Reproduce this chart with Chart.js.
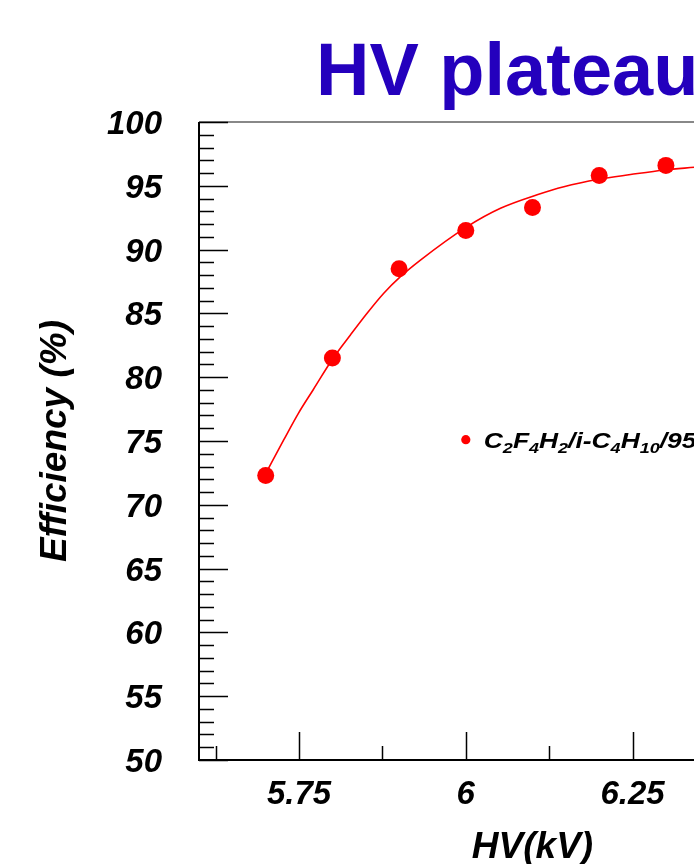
<!DOCTYPE html>
<html>
<head>
<meta charset="utf-8">
<script src="https://cdn.jsdelivr.net/npm/chart.js@4/dist/chart.umd.min.js"></script>
<style>
html,body{margin:0;padding:0;background:#fff;overflow:hidden;width:694px;height:864px;}
#wrap{position:absolute;left:0;top:0;width:1000px;height:864px;}
</style>
</head>
<body>
<div id="wrap"><canvas id="c" width="1000" height="864"></canvas></div>
<script>
// ---- data ----
const hvValues  = [5.70, 5.80, 5.90, 6.00, 6.10, 6.20, 6.30];
const effValues = [72.3, 81.5, 88.5, 91.5, 93.3, 95.8, 96.6];
// fitted curve as drawn in the picture
const fitHv  = [5.699, 5.727, 5.749, 5.771, 5.801, 5.827, 5.852, 5.877, 5.902, 5.932, 6.002, 6.052, 6.107, 6.147, 6.199, 6.247, 6.298, 6.343];
const fitEff = [72.34, 75.08, 77.17, 79.00, 81.48, 83.31, 85.01, 86.58, 87.88, 89.18, 91.80, 93.24, 94.30, 94.93, 95.51, 95.88, 96.24, 96.45];
const xMajorTicks = [5.75, 6.0, 6.25, 6.5];
const xMinorTicks = [5.625, 5.875, 6.125, 6.375];
const xTickLabels = ["5.75", "6", "6.25", "6.5"];
const yTickValues = [50, 55, 60, 65, 70, 75, 80, 85, 90, 95, 100];
const yTickLabels = ["50", "55", "60", "65", "70", "75", "80", "85", "90", "95", "100"];
const titleText = "HV plateau";
const xTitle = "HV(kV)";
const yTitle = "Efficiency (%)";
const legendParts = [["C",0],["2",1],["F",0],["4",1],["H",0],["2",1],["/i-C",0],["4",1],["H",0],["10",1],["/95/5",0]];
const legendPos = {x: 6.0, y: 75.1};

const FONT = '"Liberation Sans", Arial, Helvetica, sans-serif';

const decor = {
  id: 'decor',
  beforeDatasetsDraw(chart) {
    const ctx = chart.ctx, a = chart.chartArea;
    const xs = chart.scales.x, ys = chart.scales.y;
    ctx.save();
    ctx.strokeStyle = '#888888'; ctx.lineWidth = 2;
    ctx.beginPath();
    ctx.moveTo(a.left, a.top); ctx.lineTo(a.right, a.top); ctx.lineTo(a.right, a.bottom);
    ctx.stroke();
    ctx.strokeStyle = '#000'; ctx.lineWidth = 2;
    ctx.beginPath();
    ctx.moveTo(a.left, a.top); ctx.lineTo(a.left, a.bottom); ctx.lineTo(a.right, a.bottom);
    ctx.stroke();
    ctx.lineWidth = 1.5;
    ctx.beginPath();
    for (let v = ys.min; v <= ys.max + 1e-9; v += 1) {
      const y = Math.round(ys.getPixelForValue(v)) + 0.5;
      const len = (Math.round(v) % 5 === 0) ? 29 : 15;
      ctx.moveTo(a.left, y); ctx.lineTo(a.left + len, y);
    }
    xMajorTicks.forEach(v => { const x = Math.round(xs.getPixelForValue(v)) + 0.5; ctx.moveTo(x, a.bottom); ctx.lineTo(x, a.bottom - 28); });
    xMinorTicks.forEach(v => { const x = Math.round(xs.getPixelForValue(v)) + 0.5; ctx.moveTo(x, a.bottom); ctx.lineTo(x, a.bottom - 14); });
    ctx.stroke();
    ctx.restore();
  },
  afterDraw(chart) {
    const ctx = chart.ctx, a = chart.chartArea;
    const xs = chart.scales.x, ys = chart.scales.y;
    ctx.save();
    ctx.fillStyle = '#2400bd';
    ctx.font = 'bold 74px ' + FONT;
    ctx.textBaseline = 'alphabetic'; ctx.textAlign = 'left';
    ctx.fillText(titleText, 316, 95);
    ctx.fillStyle = '#000';
    ctx.font = 'italic bold 37px ' + FONT;
    ctx.textAlign = 'center';
    ctx.fillText(xTitle, (a.left + a.right) / 2, 858);
    ctx.save();
    ctx.translate(66, (a.top + a.bottom) / 2);
    ctx.rotate(-Math.PI / 2);
    ctx.fillText(yTitle, 0, 0);
    ctx.restore();
    // legend
    const lx = xs.getPixelForValue(legendPos.x), ly = ys.getPixelForValue(legendPos.y);
    ctx.fillStyle = '#ff0000';
    ctx.beginPath(); ctx.arc(lx, ly, 4.6, 0, Math.PI * 2); ctx.fill();
    ctx.fillStyle = '#000';
    ctx.textAlign = 'left';
    ctx.save();
    ctx.translate(lx + 18, ly + 8);
    ctx.scale(1.2, 1);
    let tx = 0;
    legendParts.forEach(([t, sub]) => {
      ctx.font = sub ? 'italic bold 15px ' + FONT : 'italic bold 22px ' + FONT;
      ctx.fillText(t, tx, sub ? 5 : 0);
      tx += ctx.measureText(t).width;
    });
    ctx.restore();
    ctx.restore();
  }
};

new Chart(document.getElementById('c'), {
  type: 'scatter',
  data: {
    datasets: [
      {
        label: 'fit', data: fitHv.map((x, i) => ({x, y: fitEff[i]})),
        showLine: true, borderColor: '#ff0000', borderWidth: 1.6,
        pointRadius: 0, cubicInterpolationMode: 'monotone', fill: false
      },
      {
        label: 'data', data: hvValues.map((x, i) => ({x, y: effValues[i]})),
        pointRadius: 8.5, pointBackgroundColor: '#ff0000', pointBorderColor: '#ff0000', pointBorderWidth: 0
      }
    ]
  },
  options: {
    responsive: false, animation: false,
    layout: {padding: {left: 0, top: 122, right: 134, bottom: 0}},
    plugins: {legend: {display: false}, tooltip: {enabled: false}, title: {display: false}},
    scales: {
      x: {
        type: 'linear', min: 5.6, max: 6.6,
        grid: {display: false}, border: {display: false},
        afterBuildTicks: s => { s.ticks = xMajorTicks.map(v => ({value: v})); },
        afterFit: s => { s.height = 104; },
        ticks: {
          padding: 7, color: '#000', maxRotation: 0, autoSkip: false,
          font: {family: FONT, size: 33, weight: 'bold', style: 'italic'},
          callback: (v) => { const i = xMajorTicks.indexOf(v); return i >= 0 ? xTickLabels[i] : ''; }
        }
      },
      y: {
        type: 'linear', min: 50, max: 100,
        grid: {display: false}, border: {display: false},
        afterBuildTicks: s => { s.ticks = yTickValues.map(v => ({value: v})); },
        afterFit: s => { s.width = 199; },
        ticks: {
          padding: 29, labelOffset: 3, color: '#000', autoSkip: false,
          font: {family: FONT, size: 33, weight: 'bold', style: 'italic'},
          callback: (v) => { const i = yTickValues.indexOf(v); return i >= 0 ? yTickLabels[i] : ''; }
        }
      }
    }
  },
  plugins: [decor]
});
</script>
</body>
</html>
